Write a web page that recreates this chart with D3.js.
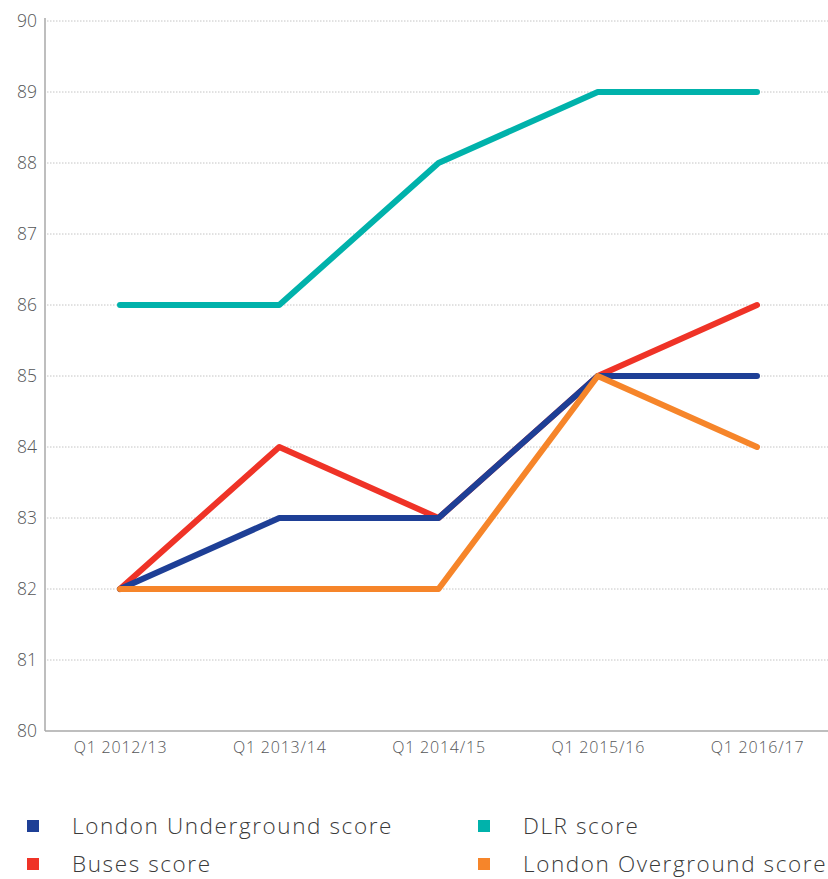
<!DOCTYPE html>
<html>
<head>
<meta charset="utf-8">
<script src="https://cdn.jsdelivr.net/npm/d3@7"></script>
<style>
  body { margin: 0; background: #fff; }
  text { font-family: "Open Sans", Lato, sans-serif; font-weight: 300; }
</style>
</head>
<body>
<div id="chart"></div>
<script>
const quarters = ["Q1 2012/13", "Q1 2013/14", "Q1 2014/15", "Q1 2015/16", "Q1 2016/17"];
const dlrScore = [86, 86, 88, 89, 89];
const busesScore = [82, 84, 83, 85, 86];
const undergroundScore = [82, 83, 83, 85, 85];
const overgroundScore = [82, 82, 82, 85, 84];
const yTicks = [80, 81, 82, 83, 84, 85, 86, 87, 88, 89, 90];

// draw order matters: orange ends up on top
const series = [
  { name: "DLR score", values: dlrScore, color: "#00b2ab" },
  { name: "Buses score", values: busesScore, color: "#ef3327" },
  { name: "London Underground score", values: undergroundScore, color: "#1e3f96" },
  { name: "London Overground score", values: overgroundScore, color: "#f6852a" }
];

const legendItems = [
  { name: "London Underground score", color: "#1e3f96", col: 0, row: 0 },
  { name: "DLR score", color: "#00b2ab", col: 1, row: 0 },
  { name: "Buses score", color: "#ef3327", col: 0, row: 1 },
  { name: "London Overground score", color: "#f6852a", col: 1, row: 1 }
];

const width = 828, height = 879;
const plot = { left: 45, right: 828, top: 21, bottom: 731 };

const svg = d3.select("#chart").append("svg")
  .attr("width", width)
  .attr("height", height);

const x = d3.scalePoint()
  .domain(quarters)
  .range([120, 757]);

const y = d3.scaleLinear()
  .domain([80, 90])
  .range([plot.bottom, plot.top]);

// grid lines
svg.append("g")
  .selectAll("line")
  .data(yTicks.filter(d => d > 80))
  .join("line")
  .attr("x1", plot.left + 2)
  .attr("x2", plot.right)
  .attr("y1", d => y(d))
  .attr("y2", d => y(d))
  .attr("stroke", "#c4c4c4")
  .attr("stroke-width", 1)
  .attr("stroke-dasharray", "1.5,1.5");

// y axis
const yAxis = svg.append("g")
  .attr("transform", "translate(" + plot.left + ",0)")
  .call(d3.axisLeft(y).tickValues(yTicks).tickSize(0).tickPadding(8));
yAxis.select(".domain").attr("stroke", "#a8a8a8").attr("stroke-width", 1.5)
  .attr("d", "M0," + (plot.top - 3) + "V" + plot.bottom);
yAxis.selectAll("text")
  .attr("font-size", 17.5)
  .attr("fill", "#555658")
  .style("font-family", "'Open Sans', sans-serif")
  .style("font-weight", 300);

// x axis
const xAxis = svg.append("g")
  .attr("transform", "translate(0," + plot.bottom + ")")
  .call(d3.axisBottom(x).tickSize(0).tickPadding(11));
xAxis.select(".domain").attr("stroke", "#a8a8a8").attr("stroke-width", 1.5)
  .attr("d", "M" + plot.left + ",0H" + plot.right);
xAxis.selectAll("text")
  .attr("font-size", 16)
  .attr("fill", "#555658")
  .style("font-family", "'Open Sans', sans-serif")
  .style("font-weight", 300)
  .style("letter-spacing", "0.8px");

const line = d3.line()
  .x((d, i) => x(quarters[i]))
  .y(d => y(d));

svg.append("g")
  .selectAll("path")
  .data(series)
  .join("path")
  .attr("fill", "none")
  .attr("stroke", d => d.color)
  .attr("stroke-width", 6)
  .attr("stroke-linecap", "round")
  .attr("stroke-linejoin", "round")
  .attr("d", d => line(d.values));

// legend
const legend = svg.append("g")
  .selectAll("g")
  .data(legendItems)
  .join("g")
  .attr("transform", d => "translate(" + (27 + d.col * 451) + "," + (820 + d.row * 38) + ")");

legend.append("rect")
  .attr("width", 12)
  .attr("height", 12)
  .attr("fill", d => d.color);

legend.append("text")
  .attr("x", 45)
  .attr("y", 6)
  .attr("dy", "0.36em")
  .attr("font-size", 22.5)
  .attr("fill", "#3a3a3a")
  .style("letter-spacing", "1.6px")
  .text(d => d.name);
</script>
</body>
</html>
